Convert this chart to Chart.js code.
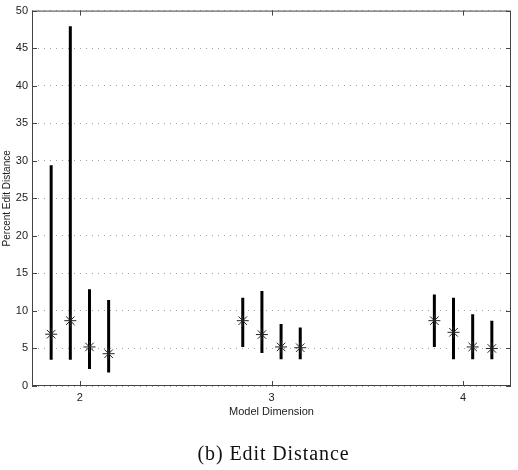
<!DOCTYPE html>
<html>
<head>
<meta charset="utf-8">
<script src="https://cdn.jsdelivr.net/npm/chart.js@4"></script>
<style>
  body { margin: 0; background: #fff; }
  #wrap { position: relative; width: 518px; height: 470px; }
  #caption {
    position: absolute; left: 32px; width: 483px; top: 442px;
    text-align: center; font-family: "Liberation Serif", serif; font-size: 20px;
    letter-spacing: 0.9px; color: #111;
  }
</style>
</head>
<body>
<div id="wrap">
  <canvas id="chart" width="518" height="470"></canvas>
  <div id="caption">(b) Edit Distance</div>
</div>
<script>
const dims = [2, 3, 4];
const offsets = [-0.15, -0.05, 0.05, 0.15];
const medians = [
    [6.9, 8.7, 5.2, 4.3],
    [8.7, 6.85, 5.2, 5.1],
    [8.7, 7.15, 5.2, 5.0]
];
const lows = [
    [3.5, 3.5, 2.25, 1.8],
    [5.2, 4.4, 3.55, 3.55],
    [5.2, 3.55, 3.55, 3.55]
];
const highs = [
    [29.4, 47.9, 12.9, 11.45],
    [11.75, 12.65, 8.25, 7.8],
    [12.2, 11.75, 9.55, 8.7]
];
const yTicks = [0, 5, 10, 15, 20, 25, 30, 35, 40, 45, 50];

let stars = [];
let ranges = [];
for (let g = 0; g < dims.length; g++) {
    for (let i = 0; i < offsets.length; i++) {
        let x = dims[g] + offsets[i];
        stars.push({x: x, y: medians[g][i]});
        ranges.push({x: x, y: lows[g][i]});
        ranges.push({x: x, y: highs[g][i]});
        ranges.push({x: x, y: null}); // gap between bars
    }
}

// box round the plot and matlab-style inward ticks
const boxPlugin = {
    id: "box",
    afterDraw(chart) {
        const c = chart.ctx, a = chart.chartArea;
        const xs = chart.scales.x, ys = chart.scales.y;
        c.save();
        c.strokeStyle = "#444";
        c.lineWidth = 1;
        c.strokeRect(a.left + 0.5, a.top + 0.5, a.right - a.left - 1, a.bottom - a.top - 1);
        c.beginPath();
        yTicks.forEach(v => {
            let y = Math.round(ys.getPixelForValue(v)) + 0.5;
            c.moveTo(a.left, y); c.lineTo(a.left + 5, y);
            c.moveTo(a.right, y); c.lineTo(a.right - 5, y);
        });
        dims.forEach(v => {
            let x = Math.round(xs.getPixelForValue(v)) + 0.5;
            c.moveTo(x, a.bottom); c.lineTo(x, a.bottom - 5);
            c.moveTo(x, a.top); c.lineTo(x, a.top + 5);
        });
        c.stroke();
        c.restore();
    }
};

let ctx = document.getElementById("chart").getContext("2d");
let chart = new Chart(ctx, {
    type: "line",
    data: {
        datasets: [{
            label: "median",
            type: "scatter",
            data: stars,
            pointStyle: "star",
            pointRadius: 6,
            pointBorderColor: "#222",
            pointBorderWidth: 1,
            backgroundColor: "#222"
        }, {
            label: "range",
            data: ranges,
            borderColor: "#000",
            borderWidth: 3,
            pointRadius: 0,
            spanGaps: false,
            fill: false
        }]
    },
    options: {
        responsive: false,
        animation: false,
        layout: {padding: {top: 7, right: 3, bottom: 51, left: 0}},
        plugins: {legend: {display: false}, tooltip: {enabled: false}},
        scales: {
            x: {
                type: "linear",
                min: 1.75,
                max: 4.25,
                afterBuildTicks: s => { s.ticks = dims.map(v => ({value: v})); },
                afterFit: s => { s.height = 33; },
                grid: {display: false, drawTicks: false, tickLength: 0},
                border: {display: false},
                ticks: {
                    padding: 5,
                    color: "#222",
                    font: {family: "Liberation Sans", size: 11}
                },
                title: {
                    display: true,
                    text: "Model Dimension",
                    color: "#222",
                    padding: 0,
                    font: {family: "Liberation Sans", size: 11}
                }
            },
            y: {
                min: 0,
                max: 50,
                afterBuildTicks: s => { s.ticks = yTicks.map(v => ({value: v})); },
                afterFit: s => { s.width = 32; },
                border: {display: false, dash: [1, 5]},
                grid: {
                    drawTicks: false,
                    color: "#a0a0a0",
                    lineWidth: 1
                },
                ticks: {
                    padding: 4,
                    color: "#222",
                    font: {family: "Liberation Sans", size: 11}
                },
                title: {
                    display: true,
                    text: "Percent Edit Distance",
                    color: "#222",
                    padding: {top: 1, bottom: 0},
                    font: {family: "Liberation Sans", size: 10}
                }
            }
        }
    },
    plugins: [boxPlugin]
});
</script>
</body>
</html>
